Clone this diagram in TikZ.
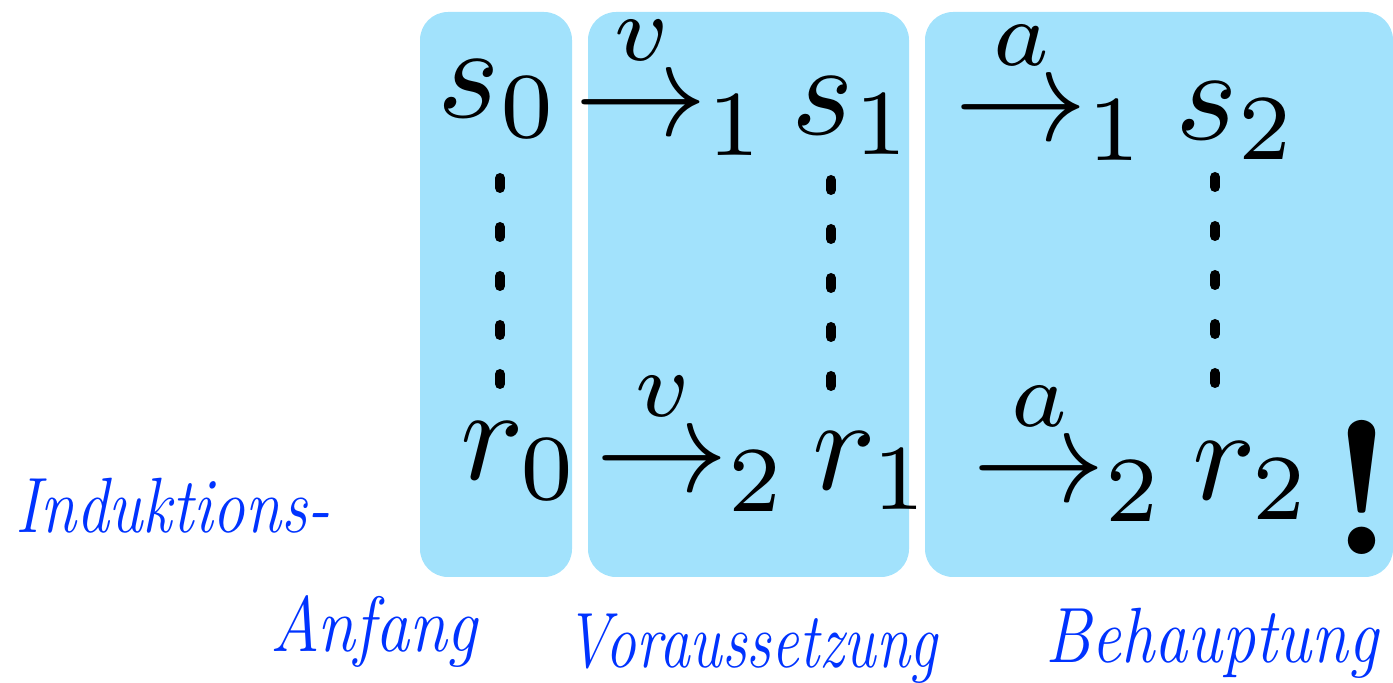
\documentclass[tikz,border=0pt]{standalone}
\usepackage{amsmath}
\usepackage{graphicx}
\usepackage{fontspec}
\definecolor{boxfill}{RGB}{162,226,252}
\definecolor{labblue}{RGB}{0,51,255}
\newcommand{\hugemath}[1]{\scalebox{3.325}{$#1$}}
\newcommand{\narrowlab}[2]{\scalebox{#1}[1]{#2}}
\tikzset{
  mathtxt/.style={inner sep=0pt, anchor=base west, font=\fontsize{10}{12}\selectfont},
  bangtxt/.style={inner sep=0pt, anchor=base west, font=\fontsize{47.5}{56}\selectfont\bfseries},
  labtxt/.style={inner sep=0pt, anchor=base west, text=labblue, font=\fontsize{19.6}{23}\selectfont\itshape},
  stage/.style={fill=boxfill, rounded corners=7pt, draw=none},
  dotline/.style={line width=2.5pt, line cap=round, dash pattern=on 2.5pt off 9.75pt}
}
\begin{document}
\begin{tikzpicture}[x=0.25pt,y=-0.25pt]
\useasboundingbox (0,0) rectangle (1393,683);
% stage boxes
\fill[stage] (420,12) rectangle (572,577);
\fill[stage] (588,12) rectangle (909,577);
\fill[stage] (925,12) rectangle (1393,577);
% top row
\node[mathtxt] (s0) at (437,118) {\hugemath{s_0}};
\node[mathtxt] (t1) at (574,136) {\hugemath{\stackrel{v}{\rightarrow}_1}};
\node[mathtxt] (s1) at (791,135) {\hugemath{s_1}};
\node[mathtxt] (t2) at (954,141) {\hugemath{\stackrel{a}{\rightarrow}_1}};
\node[mathtxt] (s2) at (1175,140) {\hugemath{s_2}};
% bottom row
\node[mathtxt] (r0) at (460,480) {\hugemath{r_0}};
\node[mathtxt] (u1) at (595,492) {\hugemath{\stackrel{v}{\rightarrow}_2}};
\node[mathtxt] (r1) at (812,490) {\hugemath{r_1}};
\node[mathtxt] (u2) at (972,502) {\hugemath{\stackrel{a}{\rightarrow}_2}};
\node[mathtxt] (r2) at (1192,500) {\hugemath{r_2}};
\node[bangtxt] (bang) at (1329,555) {!};
% dotted relations
\coordinate (c0t) at (500,178); \coordinate (c0b) at (500,384);
\coordinate (c1t) at (831,180); \coordinate (c1b) at (831,386);
\coordinate (c2t) at (1215,177); \coordinate (c2b) at (1215,383);
\draw[dotline] (c0t) -- (c0b);
\draw[dotline] (c1t) -- (c1b);
\draw[dotline] (c2t) -- (c2b);
% labels
\node[labtxt] (l1) at (15,533) {\narrowlab{0.83}{Induktions-}};
\node[labtxt] (l2) at (270,652) {\narrowlab{0.87}{Anfang}};
\node[labtxt] (l3) at (565,668) {\narrowlab{0.785}{Voraussetzung}};
\node[labtxt] (l4) at (1045,663) {\narrowlab{0.845}{Behauptung}};
\end{tikzpicture}
\end{document}
